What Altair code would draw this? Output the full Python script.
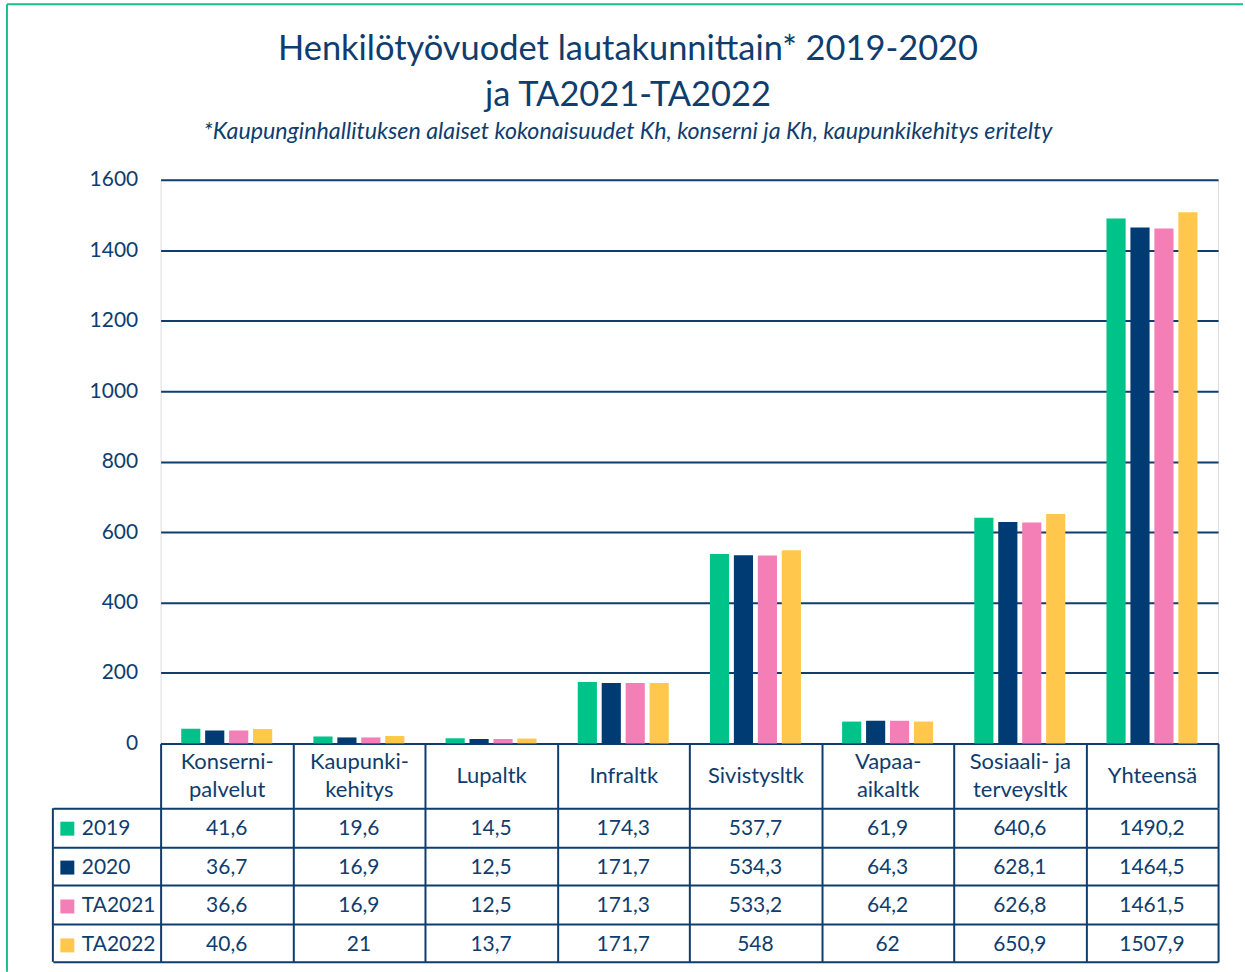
import altair as alt
import pandas as pd

FONT = "Lato"
NAVY = "#0E3D6E"
GREEN_FRAME = "#1DBF8E"

categories = ["Konserni-\npalvelut", "Kaupunki-\nkehitys", "Lupaltk", "Infraltk",
              "Sivistysltk", "Vapaa-\naikaltk", "Sosiaali- ja\nterveysltk", "Yhteensä"]
series = ["2019", "2020", "TA2021", "TA2022"]
colors = ["#00C389", "#003B73", "#F47FB6", "#FFC84D"]

v2019 = [41.6, 19.6, 14.5, 174.3, 537.7, 61.9, 640.6, 1490.2]
v2020 = [36.7, 16.9, 12.5, 171.7, 534.3, 64.3, 628.1, 1464.5]
vTA2021 = [36.6, 16.9, 12.5, 171.3, 533.2, 64.2, 626.8, 1461.5]
vTA2022 = [40.6, 21, 13.7, 171.7, 548, 62, 650.9, 1507.9]

y_ticks = [0, 200, 400, 600, 800, 1000, 1200, 1400, 1600]

rows = []
for s, vals in zip(series, [v2019, v2020, vTA2021, vTA2022]):
    for c, v in zip(categories, vals):
        rows.append({"cat": c, "series": s, "value": v,
                     "label": f"{v:g}".replace(".", ",")})
df = pd.DataFrame(rows)

W = 1060
H_TOP = 565
H_TAB = 154
HEADER = 65
LEGCOL = 108

x_top = alt.X(
    "cat:N", sort=categories,
    scale=alt.Scale(paddingInner=0, paddingOuter=0),
    axis=alt.Axis(
        title=None, orient="bottom", domain=True, domainColor=NAVY, domainWidth=2,
        ticks=True, tickBand="extent", tickSize=HEADER, tickColor=NAVY, tickWidth=2,
        labelExpr="split(datum.label, '\\n')", labelFontSize=22, labelColor=NAVY,
        labelFont=FONT, labelAngle=0, labelBaseline="middle", labelLineHeight=28,
        labelPadding={"condition": {"test": "indexof(datum.label, '\\n') >= 0",
                                    "value": -47},
                      "value": -33},
        labelLimit=0, grid=False,
    ),
)

bars = alt.Chart(df).mark_bar().encode(
    x=x_top,
    xOffset=alt.XOffset("series:N", sort=series,
                        scale=alt.Scale(paddingInner=0.2, paddingOuter=0.86)),
    y=alt.Y("value:Q", scale=alt.Scale(domain=[0, 1600]),
            axis=alt.Axis(values=y_ticks, format="d", title=None, domain=False,
                          ticks=False, grid=True, gridColor=NAVY, gridWidth=2,
                          labelFontSize=21, labelColor=NAVY, labelFont=FONT,
                          labelPadding=23)),
    color=alt.Color("series:N", scale=alt.Scale(domain=series, range=colors),
                    legend=alt.Legend(orient="none", legendX=-104, legendY=640,
                                      direction="vertical", title=None,
                                      symbolType="square", symbolSize=196,
                                      symbolStrokeWidth=0, labelFontSize=21,
                                      labelColor=NAVY, labelFont=FONT,
                                      labelOffset=4, rowPadding=17)),
)

one = pd.DataFrame({"a": [0]})
frame_left = alt.Chart(one).mark_rule(color=GREEN_FRAME, strokeWidth=2).encode(
    x=alt.value(-154), y=alt.value(-176), y2=alt.value(794))
frame_top = alt.Chart(one).mark_rule(color=GREEN_FRAME, strokeWidth=2).encode(
    x=alt.value(-154), x2=alt.value(1085), y=alt.value(-176))

top = alt.layer(bars, frame_left, frame_top).properties(width=W, height=H_TOP)

cells = alt.Chart(df).mark_text(fontSize=21, color=NAVY, font=FONT, dy=2).encode(
    x=alt.X("cat:N", sort=categories, scale=alt.Scale(paddingInner=0, paddingOuter=0),
            axis=alt.Axis(title=None, labels=False, ticks=False, domain=False,
                          grid=True, gridColor=NAVY, gridWidth=2, tickBand="extent")),
    y=alt.Y("series:N", sort=series, scale=alt.Scale(paddingInner=0, paddingOuter=0),
            axis=alt.Axis(title=None, labels=False, ticks=True, tickSize=LEGCOL,
                          tickBand="extent", tickColor=NAVY, tickWidth=2,
                          domain=False, grid=True, gridColor=NAVY, gridWidth=2)),
    text="label:N",
)
table_left = alt.Chart(one).mark_rule(color=NAVY, strokeWidth=2).encode(
    x=alt.value(-LEGCOL), y=alt.value(0), y2=alt.value(H_TAB))

table = alt.layer(cells, table_left).properties(width=W, height=H_TAB)

chart = alt.vconcat(top, table, spacing=HEADER, bounds="flush").properties(
    title=alt.TitleParams(
        text=["Henkilötyövuodet lautakunnittain* 2019-2020", "ja TA2021-TA2022"],
        subtitle="*Kaupunginhallituksen alaiset kokonaisuudet Kh, konserni ja Kh, kaupunkikehitys eritelty",
        fontSize=34.5, fontWeight="normal", font=FONT, color=NAVY, lineHeight=46,
        subtitleFontSize=23.3, subtitleFontStyle="italic", subtitleFont=FONT,
        subtitleColor=NAVY, subtitlePadding=8,
        anchor="middle", frame="bounds", offset=-142, dx=3,
    ),
    padding={"left": 5, "top": 1, "right": 0, "bottom": 0},
).configure_view(stroke=None).configure(font=FONT)

chart.save("out.html", embed_options={"renderer": "svg", "actions": False})
